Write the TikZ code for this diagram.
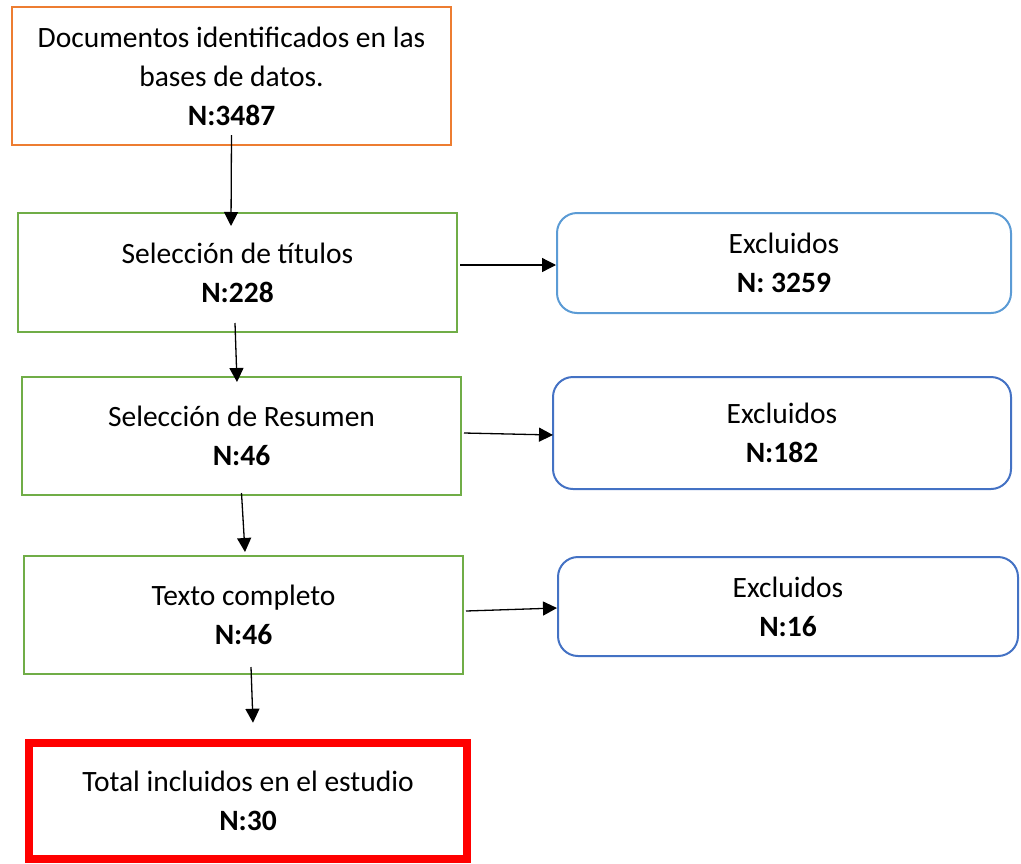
\documentclass[tikz,border=0pt]{standalone}
\usepackage{fontspec}
\setmainfont{Carlito}
\usetikzlibrary{positioning,arrows.meta}

\definecolor{naranja}{HTML}{ED7D31}
\definecolor{verde}{HTML}{70AD47}
\definecolor{celeste}{HTML}{5B9BD5}
\definecolor{azul}{HTML}{4472C4}
\definecolor{rojo}{HTML}{FF0000}

\tikzset{
    caja/.style={draw, rectangle, line width=2pt, align=center, inner sep=0pt,
        minimum width=439pt, minimum height=118pt,
        font=\fontsize{29.5}{39}\selectfont},
    excl/.style={caja, rounded corners=20pt, minimum width=456pt, minimum height=100pt},
    flecha/.style={line width=1.3pt, -{Triangle[length=14pt,width=14pt]}}
}

\begin{document}
\begin{tikzpicture}
    \useasboundingbox (0,0) rectangle (1021pt,-863pt);

    \node[caja, draw=naranja, minimum height=138pt] (docs) at (231.5pt,-76pt)
        {Documentos identificados en las\\ bases de datos.\\ \textbf{N:3487}};
    \node[caja, draw=verde, minimum height=119pt, node distance=196.5pt, below of=docs, xshift=6pt] (titulos)
        {Selección de títulos\\ \textbf{N:228}};
    \node[caja, draw=verde, node distance=163.5pt, below of=titulos, xshift=4pt] (resumen)
        {Selección de Resumen\\ \textbf{N:46}};
    \node[caja, draw=verde, node distance=179pt, below of=resumen, xshift=2pt] (texto)
        {Texto completo\\ \textbf{N:46}};
    \node[caja, draw=rojo, line width=8pt, minimum width=438pt, minimum height=115.5pt,
        node distance=186pt, below of=texto, xshift=4.5pt] (total)
        {Total incluidos en el estudio\\ \textbf{N:30}};

    \node[excl, draw=celeste, minimum width=454pt, node distance=546.5pt, right of=titulos, yshift=9.5pt] (excl1)
        {Excluidos\\ \textbf{N: 3259}};
    \node[excl, draw=azul, minimum width=458pt, minimum height=112pt, node distance=540.5pt, right of=resumen, yshift=3pt] (excl2)
        {Excluidos\\ \textbf{N:182}};
    \node[excl, draw=azul, minimum width=460pt, minimum height=99pt, node distance=544.5pt, right of=texto, yshift=8.5pt] (excl3)
        {Excluidos\\ \textbf{N:16}};

    \draw[flecha] ([yshift=11pt]docs.south) -- ([xshift=-6.5pt,yshift=-14pt]titulos.north);
    \draw[flecha] ([xshift=-2.5pt,yshift=10pt]titulos.south) -- ([xshift=-4.5pt,yshift=-6pt]resumen.north);
    \draw[flecha] ([yshift=3pt]resumen.south) -- ([xshift=1.5pt,yshift=3pt]texto.north);
    \draw[flecha] ([xshift=7.5pt,yshift=8pt]texto.south) -- ([xshift=5pt,yshift=16.5pt]total.north);

    \draw[flecha] ([xshift=2pt,yshift=7.5pt]titulos.east) -- ([yshift=-2pt]excl1.west);
    \draw[flecha] ([xshift=2pt,yshift=3pt]resumen.east) -- ([xshift=1pt,yshift=-2pt]excl2.west);
    \draw[flecha] ([xshift=2pt,yshift=4pt]texto.east) -- ([yshift=-1.5pt]excl3.west);
\end{tikzpicture}
\end{document}
